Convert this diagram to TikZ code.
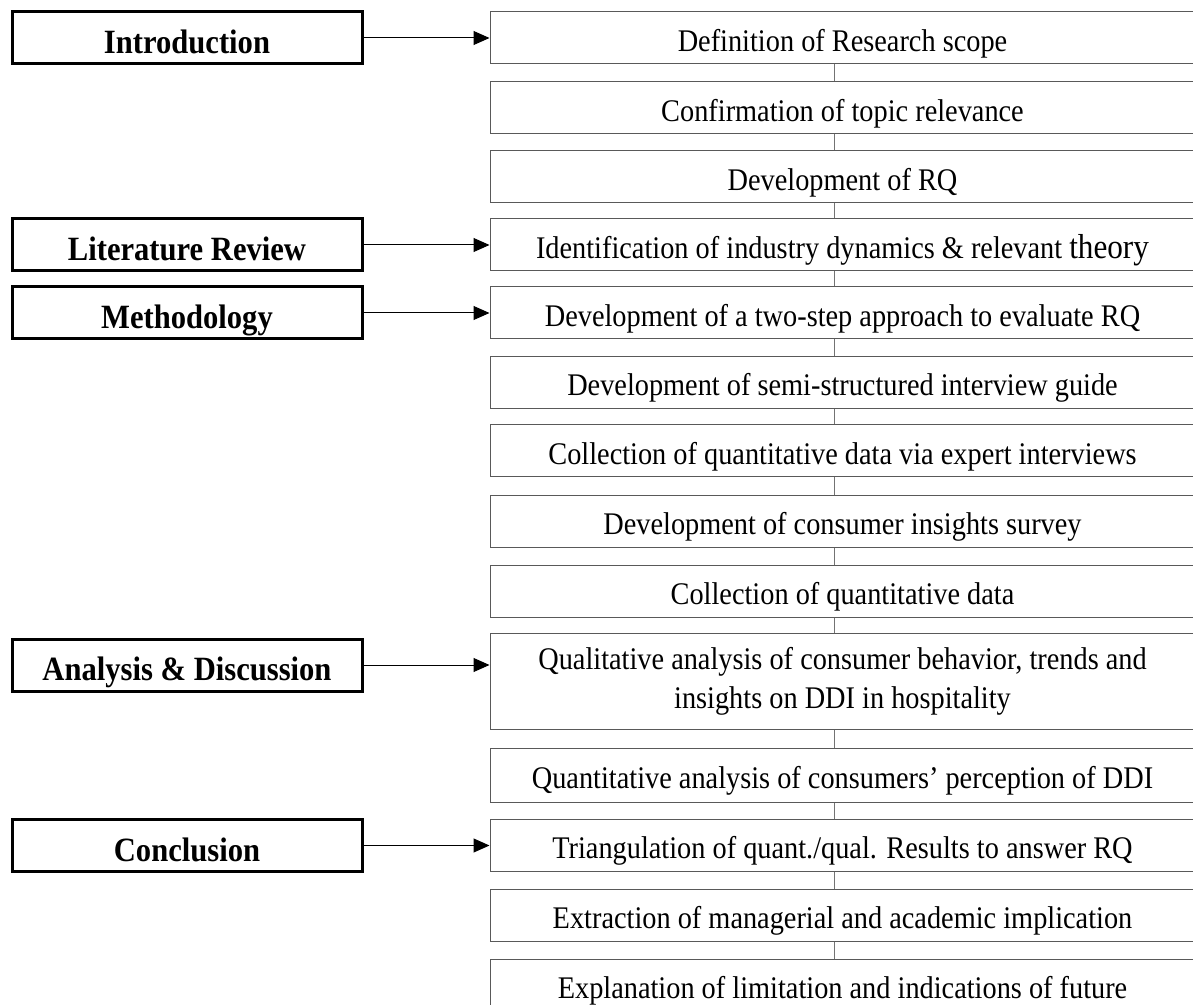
\documentclass[tikz,border=0pt]{standalone}
\usepackage{fontspec}
\setmainfont{Liberation Serif}[FakeStretch=0.9]
\usetikzlibrary{arrows.meta}

\begin{document}
\begin{tikzpicture}[x=0.75pt, y=-0.75pt,
  stage/.style={draw=black, line width=2.25pt, minimum width=262.5pt, minimum height=39pt, inner sep=0pt, text height=24.5pt, text depth=1pt, font=\fontsize{25.5}{30}\selectfont\bfseries},
  task/.style={draw=black!65, line width=0.75pt, minimum width=528.75pt, minimum height=39pt, inner sep=0pt, align=center, font=\fontsize{23.6}{29}\selectfont},
  onerow/.style={text height=21pt, text depth=1pt},
  feed/.style={black, line width=0.75pt, -{Triangle[length=12pt, width=10.5pt]}},
  link/.style={black!55, line width=0.75pt}]
  \useasboundingbox (0,0) rectangle (1193,1005);
  \clip (0,0) rectangle (1193,1005);
  % stages on the left
  \node[stage] (intro) at (187,38) {Introduction};
  \node[stage] (litrev) at (187,245) {Literature Review};
  \node[stage] (method) at (187,313) {Methodology};
  \node[stage] (analysis) at (187,665) {Analysis \& Discussion};
  \node[stage] (concl) at (187,845.5) {Conclusion};
  % tasks on the right
  \node[task, onerow] (scope) at (842.5,38) {Definition of Research scope};
  \node[task, onerow] (relev) at (842.5,108) {Confirmation of topic relevance};
  \node[task, onerow] (rq) at (842.5,177) {Development of RQ};
  \node[task, onerow] (theory) at (842.5,245) {Identification of industry dynamics \& relevant {\fontsize{26}{29}\selectfont theory}};
  \node[task, onerow] (twostep) at (842.5,313) {Development of a two-step approach to evaluate RQ};
  \node[task, onerow] (guide) at (842.5,382.5) {Development of semi-structured interview guide};
  \node[task, onerow] (expert) at (842.5,451) {Collection of quantitative data via expert interviews};
  \node[task, onerow] (survey) at (842.5,521.5) {Development of consumer insights survey};
  \node[task, onerow] (quantdata) at (842.5,591.5) {Collection of quantitative data};
  \node[task, minimum height=72pt] (qualan) at (842.5,681) {Qualitative analysis of consumer behavior, trends and\\insights on DDI in hospitality};
  \node[task, onerow, minimum height=41pt] (quantan) at (842.5,775.5) {Quantitative analysis of consumers’ perception of DDI};
  \node[task, onerow] (triang) at (842.5,845.5) {Triangulation of quant./qual. Results to answer RQ};
  \node[task, onerow] (implic) at (842.5,915) {Extraction of managerial and academic implication};
  \node[task, onerow] (limit) at (842.5,985) {Explanation of limitation and indications of future};
  % arrows from stages
  \draw[feed] (intro) -- (intro -| scope.west);
  \draw[feed] (litrev) -- (litrev -| theory.west);
  \draw[feed] (method) -- (method -| twostep.west);
  \draw[feed] (analysis) -- (analysis -| qualan.west);
  \draw[feed] (concl) -- (concl -| triang.west);
  % links between tasks
  \draw[link] ([xshift=-6pt]scope.south) -- ([xshift=-6pt]relev.north);
  \draw[link] ([xshift=-6pt]relev.south) -- ([xshift=-6pt]rq.north);
  \draw[link] ([xshift=-6pt]rq.south) -- ([xshift=-6pt]theory.north);
  \draw[link] ([xshift=-6pt]theory.south) -- ([xshift=-6pt]twostep.north);
  \draw[link] ([xshift=-6pt]twostep.south) -- ([xshift=-6pt]guide.north);
  \draw[link] ([xshift=-6pt]guide.south) -- ([xshift=-6pt]expert.north);
  \draw[link] ([xshift=-6pt]expert.south) -- ([xshift=-6pt]survey.north);
  \draw[link] ([xshift=-6pt]survey.south) -- ([xshift=-6pt]quantdata.north);
  \draw[link] ([xshift=-6pt]quantdata.south) -- ([xshift=-6pt]qualan.north);
  \draw[link] ([xshift=-6pt]qualan.south) -- ([xshift=-6pt]quantan.north);
  \draw[link] ([xshift=-6pt]quantan.south) -- ([xshift=-6pt]triang.north);
  \draw[link] ([xshift=-6pt]triang.south) -- ([xshift=-6pt]implic.north);
  \draw[link] ([xshift=-6pt]implic.south) -- ([xshift=-6pt]limit.north);
\end{tikzpicture}
\end{document}
